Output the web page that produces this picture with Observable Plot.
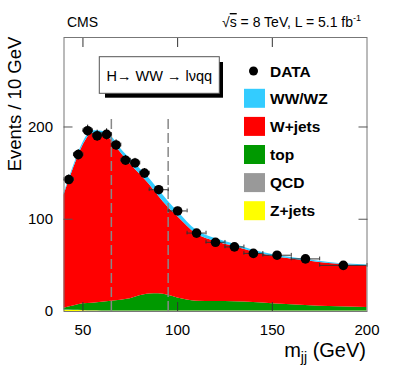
<!DOCTYPE html>
<html><head><meta charset="utf-8">
<script src="https://cdn.jsdelivr.net/npm/d3@7"></script>
<script src="https://cdn.jsdelivr.net/npm/@observablehq/plot@0.6"></script>
<style>body{margin:0;background:#fff}</style>
</head><body><div id="chart"></div>
<script>
// ---- data ----
const massGrid = [40,45,50,55,60,65,70,75,80,85,90,95,100,110,120,130,140,150,160,170,180,190,200];
const zjets    = [1.2,1.0,0.8,0.5,0.3,0.2,0.2,0.2,0.2,0.2,0.2,0.2,0.2,0.2,0.2,0.2,0.2,0.2,0.2,0.2,0.2,0.2,0.2];
const qcd      = [0.3,0.3,0.3,0.3,0.3,0.3,0.3,0.3,0.3,0.3,0.3,0.3,0.3,0.3,0.3,0.3,0.3,0.3,0.3,0.3,0.3,0.3,0.3];
const topQuark = [2.1,4.7,7.2,8.2,9.4,10.7,11.8,13.3,16.5,18.5,18.7,17,14,10.7,10.3,10,9.3,7.9,6.7,5.7,4.9,4.3,3.8];
const wjets    = [122.4,149,171.7,184,182,174.8,159.7,146.2,132,119,105.8,95.5,88.5,72.8,65.2,60,54.7,51.6,49.8,48.3,46.6,45.7,45.2];
const wwwz     = [2,2.5,3,3,3.5,4,4.5,5.5,6,6.5,7,6.5,5.5,4,3,2.5,2,1.8,1.5,1.3,1.2,1,1];

const binLo   = [40,45,50,55,60,65,70,75,80,85,95,105,115,125,135,145,160,175];
const binHi   = [45,50,55,60,65,70,75,80,85,95,105,115,125,135,145,160,175,200];
const dataY   = [143,170,196,190.5,192,180.5,164,161,150,132,109,85,75,70,63,61,57,50];
const dataErr = [5,5.5,6,6,6,5.5,5,5,5,4.5,4,3.5,3.5,3.5,3,3,3,2.5];

const cutLines = [65,95];
const xTicks = [50,100,150,200];
const yTicks = [0,100,200];

const series = ["Z+jets","QCD","top","W+jets","WW/WZ"];
const colors = ["#ffff00","#999999","#009900","#ff0000","#33ccff"];
const values = [zjets, qcd, topQuark, wjets, wwwz];

const stackData = series.flatMap((s,i)=> massGrid.map((m,j)=>({m, v: values[i][j], s})));
const pts = dataY.map((y,i)=>({x:(binLo[i]+binHi[i])/2, lo:binLo[i], hi:binHi[i], y, e:dataErr[i]}));

const font = "'Liberation Sans', Arial, Helvetica, sans-serif";

const plot = Plot.plot({
  width: 399, height: 375,
  marginLeft: 63.5, marginRight: 32.5, marginTop: 37, marginBottom: 64,
  x: {domain: [40,200], label: null},
  y: {domain: [0,297], label: null},
  color: {domain: series, range: colors},
  style: {fontFamily: font, fontSize: "15px", background: "#fff", color: "#000", overflow: "visible"},
  marks: [
    Plot.areaY(stackData, {x: "m", y: "v", fill: "s", order: series, curve: "monotone-x"}),
    Plot.ruleX(cutLines, {y1: 0, y2: 212, stroke: "#888", strokeWidth: 1.5, strokeDasharray: "10,4"}),
    Plot.ruleY(pts, {x1: "lo", x2: "hi", y: "y", stroke: "#333", strokeWidth: 1}),
    Plot.ruleX(pts, {x: "lo", y1: d => d.y - 2, y2: d => d.y + 2, stroke: "#333", strokeWidth: 1}),
    Plot.ruleX(pts, {x: "hi", y1: d => d.y - 2, y2: d => d.y + 2, stroke: "#333", strokeWidth: 1}),
    Plot.ruleX(pts, {x: "x", y1: d => d.y - d.e, y2: d => d.y + d.e, stroke: "#000", strokeWidth: 1}),
    Plot.dot(pts, {x: "x", y: "y", r: 4.8, fill: "#000"}),
    Plot.frame({stroke: "#777"}),
    Plot.axisX({anchor: "bottom", ticks: xTicks, tickSize: 0, tickPadding: 13, label: null}),
    Plot.axisX({anchor: "bottom", ticks: [50,100,150], tickSize: 9, dy: -9, tickFormat: () => "", label: null, stroke: "#333"}),
    Plot.axisX({anchor: "top", ticks: [50,100,150], tickSize: 9, dy: 9, tickFormat: () => "", label: null, stroke: "#333"}),
    Plot.axisY({anchor: "left", ticks: yTicks, tickSize: 0, tickPadding: 11, label: null}),
    Plot.axisY({anchor: "left", ticks: [100,200], tickSize: 9, dx: 9, tickFormat: () => "", label: null, stroke: "#555"}),
    Plot.axisY({anchor: "right", ticks: [100,200], tickSize: 9, dx: -9, tickFormat: () => "", label: null, stroke: "#555"})
  ]
});

const svg = d3.select(plot);
const g = svg.append("g").attr("font-family", font).attr("fill", "#000").attr("text-anchor", "start");

// header texts
g.append("text").attr("x", 67).attr("y", 27).attr("font-size", 14).attr("text-anchor", "start").text("CMS");
const hdr = g.append("text").attr("x", 361).attr("y", 27).attr("text-anchor", "end").attr("font-size", 14);
hdr.append("tspan").text("\u221A");
hdr.append("tspan").attr("text-decoration", "overline").text("s");
hdr.append("tspan").text(" = 8 TeV, L = 5.1 fb");
hdr.append("tspan").attr("font-size", 9).attr("dy", -6).text("-1");

// axis titles
const xl = g.append("text").attr("x", 366).attr("y", 357).attr("text-anchor", "end").attr("font-size", 20);
xl.append("tspan").text("m");
xl.append("tspan").attr("font-size", 14).attr("dy", 5).text("jj");
xl.append("tspan").attr("dy", -5).text(" (GeV)");
g.append("text").attr("transform", "translate(21,104) rotate(-90)").attr("text-anchor", "middle")
  .attr("font-size", 18.5).text("Events / 10 GeV");

// process box with shadow
g.append("rect").attr("x", 105).attr("y", 62).attr("width", 118).attr("height", 35.7).attr("fill", "#000");
g.append("rect").attr("x", 99.3).attr("y", 56.7).attr("width", 120).attr("height", 36.6)
  .attr("fill", "#fff").attr("stroke", "#555").attr("stroke-width", 1);
g.append("text").attr("x", 159.3).attr("y", 80.5).attr("text-anchor", "middle").attr("font-size", 14.5)
  .text("H\u2192 WW \u2192 l\u03BDqq");

// legend
const leg = g.append("g").attr("font-weight", "bold").attr("font-size", 15.5).attr("text-anchor", "start");
leg.append("circle").attr("cx", 253.5).attr("cy", 71).attr("r", 4.5).attr("fill", "#000");
leg.append("text").attr("x", 270).attr("y", 71).attr("dy", "0.36em").text("DATA");
const legOrder = ["WW/WZ","W+jets","top","QCD","Z+jets"];
legOrder.forEach((name, i) => {
  const cy = 98.3 + i * 28.1;
  leg.append("rect").attr("x", 244).attr("y", cy - 9.5).attr("width", 21).attr("height", 19)
    .attr("fill", colors[series.indexOf(name)]);
  leg.append("text").attr("x", 270).attr("y", cy).attr("dy", "0.36em").text(name);
});

document.getElementById("chart").appendChild(plot);
</script>
</body></html>
